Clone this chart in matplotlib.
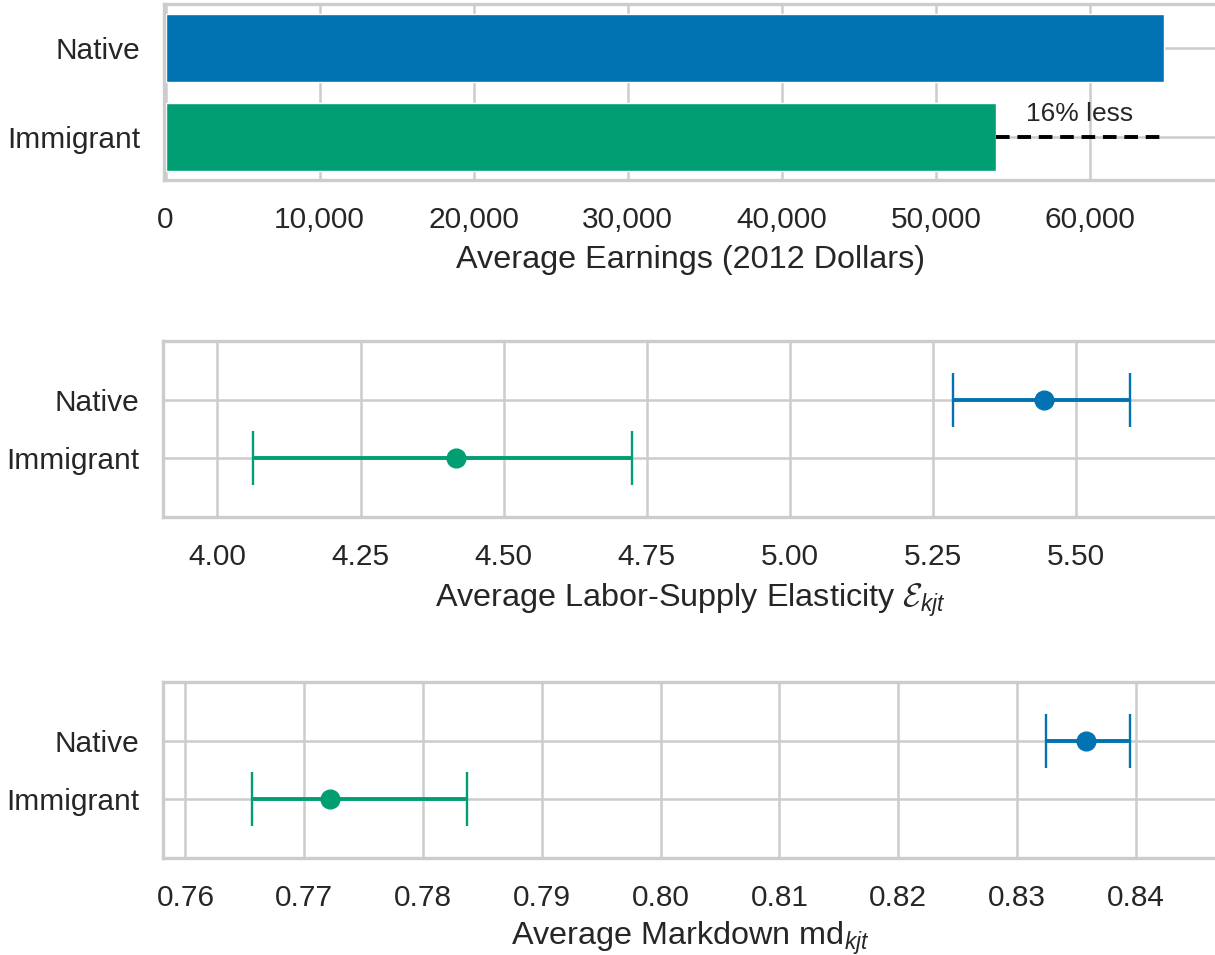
import matplotlib
matplotlib.use("Agg")
import matplotlib.pyplot as plt
import seaborn as sns
from matplotlib.ticker import MultipleLocator, StrMethodFormatter

# data
groups = ["Native", "Immigrant"]
earnings = [64800, 53900]

elasticity = [5.444, 4.417]
elasticity_lo = [5.285, 4.062]
elasticity_hi = [5.594, 4.724]

markdown = [0.8358, 0.7722]
markdown_lo = [0.8324, 0.7656]
markdown_hi = [0.8395, 0.7837]

gap_label = "16% less"
colors = ["#0173B2", "#029E73"]

# style
sns.set_style("whitegrid")
plt.rcParams["font.family"] = ["Liberation Sans", "DejaVu Sans"]
plt.rcParams["mathtext.fontset"] = "custom"
plt.rcParams["mathtext.rm"] = "Liberation Sans"
plt.rcParams["mathtext.it"] = "Liberation Sans:italic"
plt.rcParams["mathtext.cal"] = "cmsy10"
TEXT = "#262626"
GRID = "#cccccc"
TICK_FS = 21.5
LABEL_FS = 23.3

W, H = 1215, 955
fig = plt.figure(figsize=(W / 100, H / 100), dpi=100)


def add_panel(left, top, bottom, right=1217):
    return fig.add_axes([left / W, 1 - bottom / H, (right - left) / W, (bottom - top) / H])


def style(ax, xlabel, labelpad=8):
    ax.set_axisbelow(True)
    ax.grid(True, color=GRID, linewidth=1.8)
    for side, sp in ax.spines.items():
        sp.set_color(GRID)
        sp.set_linewidth(2.4)
    ax.spines["right"].set_visible(False)
    ax.tick_params(axis="x", length=0, labelsize=TICK_FS, labelcolor=TEXT, pad=18.5)
    ax.tick_params(axis="y", length=0, labelsize=TICK_FS, labelcolor=TEXT, pad=17)
    ax.set_xlabel(xlabel, fontsize=LABEL_FS, color=TEXT, labelpad=labelpad)
    ax.set_yticks(range(len(groups)))
    ax.set_yticklabels(groups)


def draw_points(ax, vals, lo, hi):
    for i in range(len(groups)):
        ax.errorbar(vals[i], i, xerr=[[vals[i] - lo[i]], [hi[i] - vals[i]]],
                    fmt="o", color=colors[i], ms=13.5, elinewidth=2.8, capsize=19.5,
                    capthick=1.7, zorder=3)


# top: average earnings
ax1 = add_panel(164, 4, 180)
ypos = list(range(len(groups)))
ax1.barh(ypos, earnings, height=0.77, color=colors, zorder=2)
ax1.plot([earnings[1], earnings[0]], [1, 1], color="black", linewidth=2.8,
         dashes=(3.5, 2.0), zorder=3)
ax1.text((earnings[0] + earnings[1]) / 2, 0.74, gap_label, ha="center", va="center",
         fontsize=19, color=TEXT, zorder=3)
ax1.set_xlim(-100, 68250)
ax1.set_ylim(1.49, -0.5)
ax1.xaxis.set_major_locator(MultipleLocator(10000))
ax1.xaxis.set_major_formatter(StrMethodFormatter("{x:,.0f}"))
style(ax1, "Average Earnings (2012 Dollars)")

# middle: labor-supply elasticity
ax2 = add_panel(163, 341, 517)
draw_points(ax2, elasticity, elasticity_lo, elasticity_hi)
ax2.set_xlim(3.905, 5.746)
ax2.set_ylim(2.0, -1.0)
ax2.xaxis.set_major_locator(MultipleLocator(0.25))
ax2.xaxis.set_major_formatter(StrMethodFormatter("{x:.2f}"))
style(ax2, r"Average Labor-Supply Elasticity $\mathcal{E}_{kjt}$")

# bottom: markdown
ax3 = add_panel(163, 682, 858)
draw_points(ax3, markdown, markdown_lo, markdown_hi)
ax3.set_xlim(0.75811, 0.84683)
ax3.set_ylim(2.0, -1.0)
ax3.xaxis.set_major_locator(MultipleLocator(0.01))
ax3.xaxis.set_major_formatter(StrMethodFormatter("{x:.2f}"))
style(ax3, r"Average Markdown md$_{kjt}$", labelpad=6)

fig.savefig("out.png", dpi=100)
